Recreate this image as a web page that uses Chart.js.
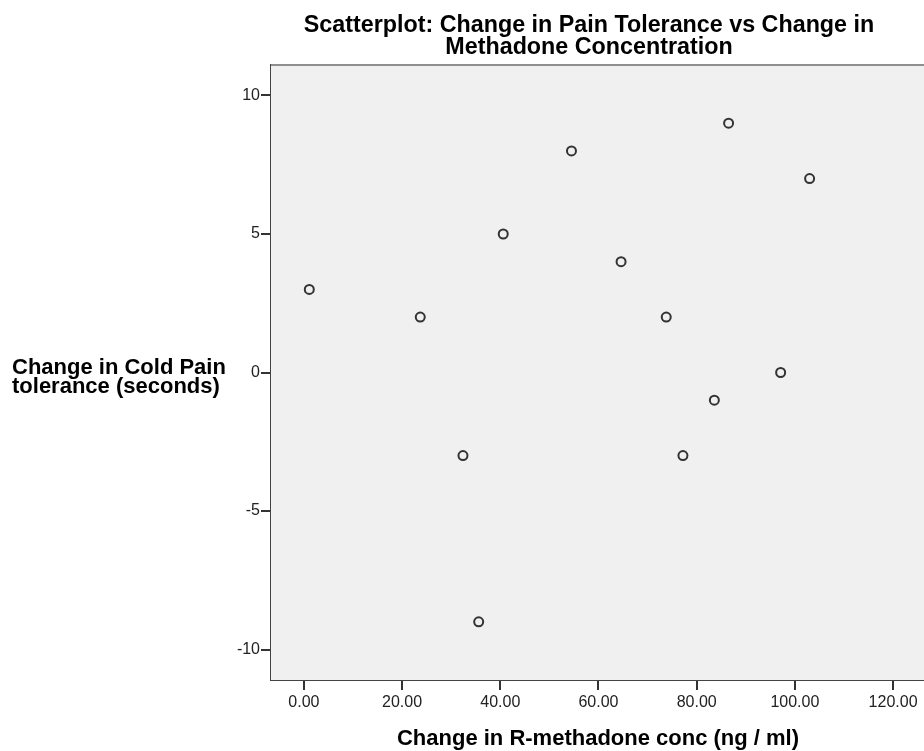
<!DOCTYPE html>
<html>
<head>
<meta charset="utf-8">
<script src="https://cdn.jsdelivr.net/npm/chart.js@4.4.1/dist/chart.umd.min.js"></script>
<style>
  html, body { margin: 0; padding: 0; background: #ffffff; overflow: hidden; }
  #wrap { width: 924px; height: 751px; }
</style>
</head>
<body>
<div id="wrap"><canvas id="c" width="924" height="751"></canvas></div>
<script>
// ---- data ----
const rMethadoneChange = [1.1, 23.7, 32.4, 35.6, 40.6, 54.5, 64.6, 73.8, 77.2, 83.6, 86.5, 97.1, 103.0];
const coldPainChange   = [3,   2,    -3,   -9,   5,    8,    4,    2,    -3,   -1,   9,    0,    7];
const xTickValues = [0, 20, 40, 60, 80, 100, 120];
const yTickValues = [-10, -5, 0, 5, 10];
const chartTitleLines = ['Scatterplot: Change in Pain Tolerance vs Change in', 'Methadone Concentration'];
const xAxisTitle = 'Change in R-methadone conc (ng / ml)';
const yAxisTitleLines = ['Change in Cold Pain', 'tolerance (seconds)'];

const points = rMethadoneChange.map((x, i) => ({ x: x, y: coldPainChange[i] }));

const FONT = '"Liberation Sans", Arial, sans-serif';

const framePlugin = {
  id: 'frame',
  beforeDatasetsDraw(chart) {
    const { ctx, chartArea: a } = chart;
    ctx.save();
    ctx.fillStyle = '#f0f0f0';
    ctx.fillRect(a.left, a.top, a.right - a.left, a.bottom - a.top);
    ctx.strokeStyle = '#8f8f8f';
    ctx.lineWidth = 2;
    ctx.beginPath();
    ctx.moveTo(a.left, a.top);
    ctx.lineTo(a.right, a.top);
    ctx.stroke();
    ctx.restore();
  },
  afterDraw(chart) {
    const { ctx } = chart;
    ctx.save();
    ctx.fillStyle = '#000000';
    ctx.textBaseline = 'alphabetic';
    ctx.textAlign = 'center';
    ctx.font = 'bold 23.3px ' + FONT;
    ctx.fillText(chartTitleLines[0], 589, 32);
    ctx.fillText(chartTitleLines[1], 589, 54);
    ctx.font = 'bold 22px ' + FONT;
    ctx.fillText(xAxisTitle, 598, 745);
    ctx.textAlign = 'left';
    ctx.fillText(yAxisTitleLines[0], 12, 374);
    ctx.fillText(yAxisTitleLines[1], 12, 393);
    ctx.restore();
  }
};

new Chart(document.getElementById('c'), {
  type: 'scatter',
  data: {
    datasets: [{
      data: points,
      pointRadius: 4.5,
      pointHoverRadius: 4.5,
      pointBorderWidth: 2,
      pointBorderColor: '#333333',
      pointBackgroundColor: 'rgba(0,0,0,0)'
    }]
  },
  options: {
    responsive: false,
    animation: false,
    layout: { autoPadding: false, padding: { top: 65, left: 0, right: 0, bottom: 0 } },
    plugins: { legend: { display: false }, tooltip: { enabled: false }, title: { display: false } },
    scales: {
      x: {
        type: 'linear',
        min: -6.7,
        max: 126.3,
        afterBuildTicks(scale) { scale.ticks = xTickValues.map(v => ({ value: v })); },
        afterFit(scale) { scale.height = 71; scale.paddingRight = 0; scale.paddingLeft = 0; },
        ticks: {
          callback: v => v.toFixed(2),
          color: '#222222',
          font: { family: FONT, size: 16 },
          padding: 3,
          maxRotation: 0,
          autoSkip: false
        },
        grid: { display: true, drawOnChartArea: false, drawTicks: true, tickLength: 10, color: '#333333', lineWidth: 2 },
        border: { display: true, color: '#444444', width: 2 }
      },
      y: {
        type: 'linear',
        min: -11.1,
        max: 11.1,
        afterBuildTicks(scale) { scale.ticks = yTickValues.map(v => ({ value: v })); },
        afterFit(scale) { scale.width = 271; },
        ticks: {
          callback: v => String(v),
          color: '#222222',
          font: { family: FONT, size: 16 },
          padding: 1,
          autoSkip: false
        },
        grid: { display: true, drawOnChartArea: false, drawTicks: true, tickLength: 10, color: '#333333', lineWidth: 2 },
        border: { display: true, color: '#444444', width: 2 }
      }
    }
  },
  plugins: [framePlugin]
});
</script>
</body>
</html>
